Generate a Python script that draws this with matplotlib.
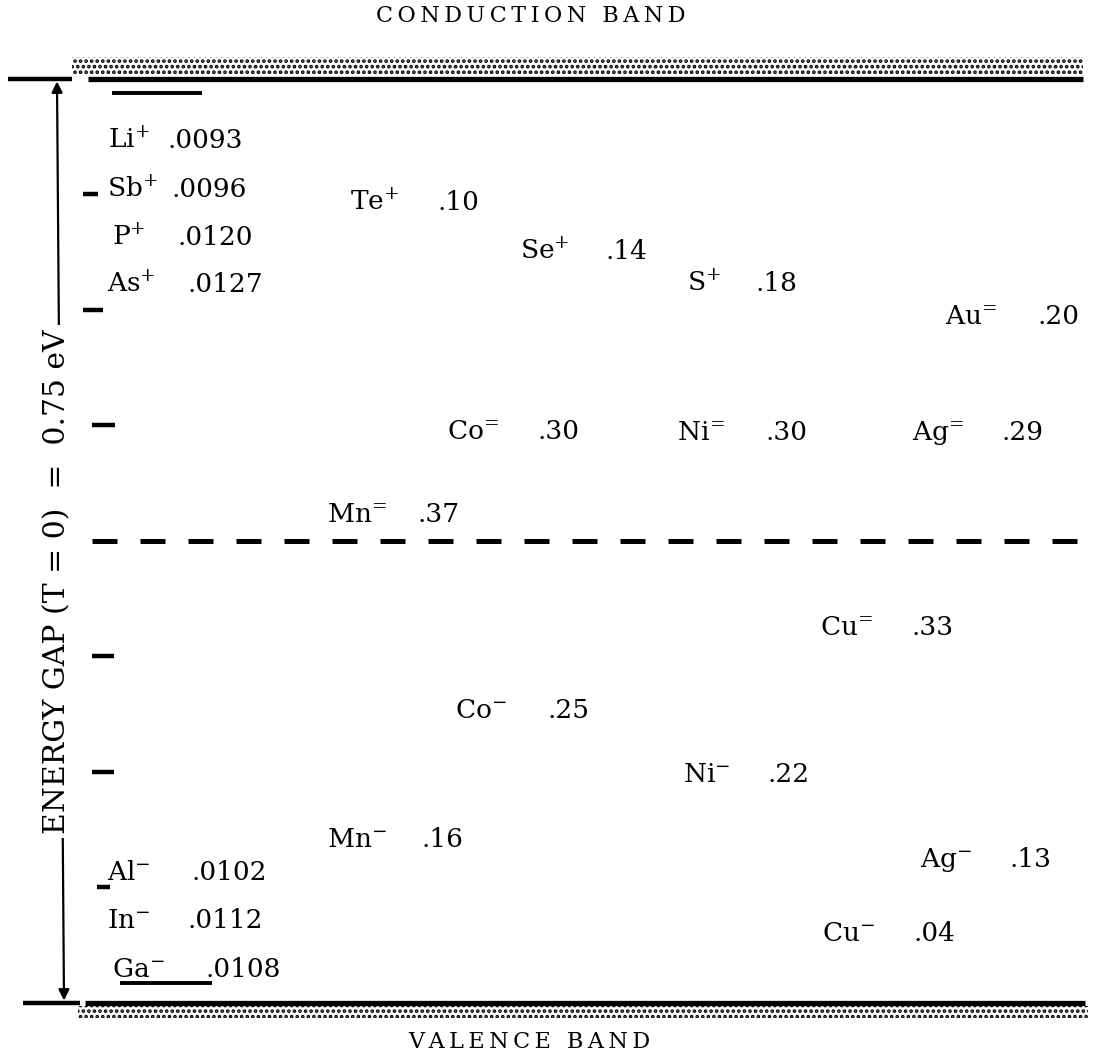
import matplotlib
matplotlib.use('Agg')
import matplotlib.pyplot as plt
from matplotlib.patches import Rectangle

plt.rcParams['font.family'] = ['DejaVu Serif', 'DejaVu Sans']
plt.rcParams['mathtext.fontset'] = 'dejavuserif'
plt.rcParams['hatch.linewidth'] = 1.8

# energy gap of germanium at T = 0, eV
gap = 0.75

# shallow levels, eV (donors from conduction band, acceptors from valence band)
shallow_donors = ['Li', 'Sb', 'P', 'As']
shallow_donor_ev = [0.0093, 0.0096, 0.0120, 0.0127]
shallow_acceptors = ['Al', 'In', 'Ga']
shallow_acceptor_ev = [0.0102, 0.0112, 0.0108]

# deep levels, eV
upper_names = ['Te', 'Se', 'S', 'Au', 'Co', 'Ni', 'Ag', 'Mn']
upper_charge = ['+', '+', '+', '=', '=', '=', '=', '=']
upper_ev = [0.10, 0.14, 0.18, 0.20, 0.30, 0.30, 0.29, 0.37]
lower_names = ['Cu', 'Co', 'Ni', 'Mn', 'Ag', 'Cu']
lower_charge = ['=', '-', '-', '-', '-', '-']
lower_ev = [0.33, 0.25, 0.22, 0.16, 0.13, 0.04]

# --- layout (x in pixels of the sheet, y on the energy axis) ---
sd_x = [108, 107, 112, 107]
sd_vx = [168, 172, 177, 188]
sd_y = [0.694, 0.654, 0.615, 0.577]
sa_x = [107, 107, 112]
sa_vx = [192, 187, 205]
sa_y = [0.100, 0.061, 0.021]
up_x = [350, 520, 687, 945, 447, 677, 912, 327]
up_vx = [437, 606, 755, 1037, 537, 765, 1002, 418]
up_y = [0.644, 0.604, 0.578, 0.551, 0.458, 0.457, 0.457, 0.390]
lo_x = [820, 455, 683, 327, 920, 822]
lo_vx = [912, 547, 768, 422, 1010, 913]
lo_y = [0.299, 0.231, 0.179, 0.127, 0.110, 0.050]

fs = 19


def lab(x, vx, y, name, ch, val):
    if ch == '=':
        # mathtext puts relation spacing round '=', pull it back a bit
        ch = r'\!='
    ax.text(x, y, name + '$^{' + ch + '}$', fontsize=fs, ha='left', va='baseline')
    ax.text(vx, y, val, fontsize=fs, ha='left', va='baseline')


def spaced(s):
    # poor man's letter spacing
    return '\u2009'.join(s)


fig = plt.figure(figsize=(11.09, 10.62), dpi=100)
ax = fig.add_axes([0, 0, 1, 1])
ax.set_xlim(0, 1109)
ax.set_ylim(-0.0479, 0.8141)
ax.axis('off')

# bands
ax.add_patch(Rectangle((72, gap + 0.003), 1011, 0.015, fill=False, hatch='...',
                       edgecolor='black', lw=0))
ax.add_patch(Rectangle((78, -0.0125), 1010, 0.010, fill=False, hatch='...',
                       edgecolor='black', lw=0))
ax.hlines(gap, 88, 1083, color='black', lw=3.8)
ax.hlines(0, 85, 1085, color='black', lw=3.8)
ax.hlines(gap, 8, 72, color='black', lw=3.2)
ax.hlines(0, 23, 80, color='black', lw=3.2)

# mid-gap line
ax.plot([92, 1085], [gap / 2, gap / 2], color='black', lw=3.6, dashes=(5, 4.6),
        solid_capstyle='butt', dash_capstyle='butt')

# small ticks on the left
tick_y = [gap * k / 8 for k in (7, 6, 5, 3, 2, 1)]
tick_x0 = [83, 83, 92, 92, 92, 97]
tick_x1 = [98, 103, 115, 114, 114, 110]
for y, a, b in zip(tick_y, tick_x0, tick_x1):
    ax.hlines(y, a, b, color='black', lw=3.2)

# shallow level bars
ax.hlines(0.7386, 112, 202, color='black', lw=2.8)
ax.hlines(0.0162, 120, 212, color='black', lw=2.8)

# gap arrow + label
ax.annotate('', xy=(57, 0.748), xytext=(64, 0.002),
            arrowprops=dict(arrowstyle='<|-|>', lw=1.6, color='black',
                            mutation_scale=16, shrinkA=0, shrinkB=0))
ax.text(57, 0.342, 'ENERGY GAP (T = 0)  =  0.75 eV', rotation=90, fontsize=21.5,
        ha='center', va='center', bbox=dict(fc='white', ec='none', pad=3))

# labels
for i in range(len(shallow_donors)):
    lab(sd_x[i], sd_vx[i], sd_y[i], shallow_donors[i], '+',
        '{:.4f}'.format(shallow_donor_ev[i])[1:])
for i in range(len(shallow_acceptors)):
    lab(sa_x[i], sa_vx[i], sa_y[i], shallow_acceptors[i], '-',
        '{:.4f}'.format(shallow_acceptor_ev[i])[1:])
for i in range(len(upper_names)):
    lab(up_x[i], up_vx[i], up_y[i], upper_names[i], upper_charge[i],
        '{:.2f}'.format(upper_ev[i])[1:])
for i in range(len(lower_names)):
    lab(lo_x[i], lo_vx[i], lo_y[i], lower_names[i], lower_charge[i],
        '{:.2f}'.format(lower_ev[i])[1:])

ax.text(531, 0.796, spaced('CONDUCTION BAND'), fontsize=16, ha='center', va='baseline')
ax.text(529, -0.0365, spaced('VALENCE BAND'), fontsize=16, ha='center', va='baseline')

fig.savefig('out.png', dpi=100)
